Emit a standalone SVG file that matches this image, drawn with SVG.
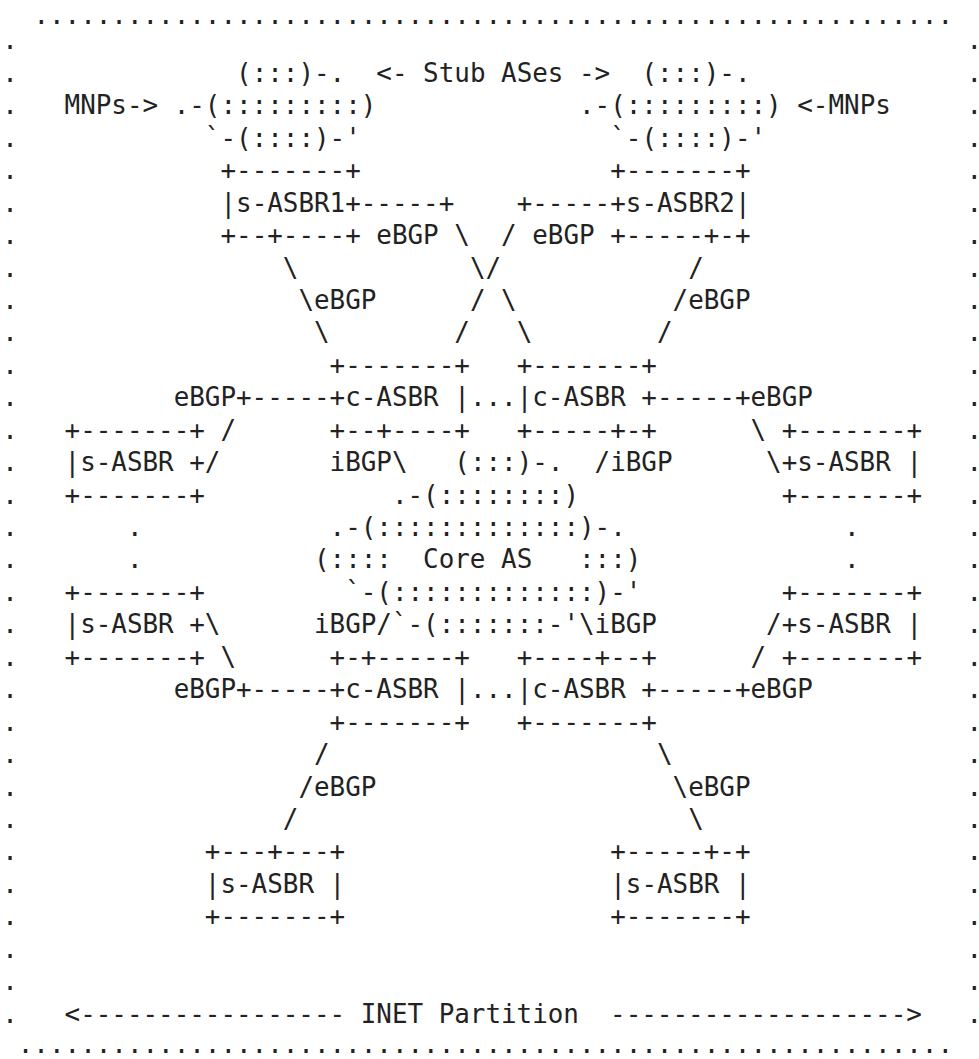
<svg xmlns="http://www.w3.org/2000/svg" width="979" height="1059" viewBox="0 0 979 1059" xml:space="preserve">
<style>
text { font-family: "DejaVu Sans Mono", "Liberation Mono", monospace; font-size: 25.9px; fill: #222; white-space: pre; }
.rd { letter-spacing: -9px; }
</style>
<rect x="0" y="0" width="979" height="1059" fill="#ffffff"/>
<g id="frame">
<text x="33.38" y="24.3">...........................................................</text>
<text x="17.79" y="1052.7">............................................................</text>
<text x="2.2" y="49.44">.</text><text class="rd" x="966.5" y="49.44">.</text>
<text x="2.2" y="81.88">.</text><text class="rd" x="966.5" y="81.88">.</text>
<text x="2.2" y="114.32">.</text><text class="rd" x="966.5" y="114.32">.</text>
<text x="2.2" y="146.76">.</text><text class="rd" x="966.5" y="146.76">.</text>
<text x="2.2" y="179.2">.</text><text class="rd" x="966.5" y="179.2">.</text>
<text x="2.2" y="211.64">.</text><text class="rd" x="966.5" y="211.64">.</text>
<text x="2.2" y="244.08">.</text><text class="rd" x="966.5" y="244.08">.</text>
<text x="2.2" y="276.52">.</text><text class="rd" x="966.5" y="276.52">.</text>
<text x="2.2" y="308.96">.</text><text class="rd" x="966.5" y="308.96">.</text>
<text x="2.2" y="341.4">.</text><text class="rd" x="966.5" y="341.4">.</text>
<text x="2.2" y="373.84">.</text><text class="rd" x="966.5" y="373.84">.</text>
<text x="2.2" y="406.28">.</text><text class="rd" x="966.5" y="406.28">.</text>
<text x="2.2" y="438.72">.</text><text class="rd" x="966.5" y="438.72">.</text>
<text x="2.2" y="471.16">.</text><text class="rd" x="966.5" y="471.16">.</text>
<text x="2.2" y="503.6">.</text><text class="rd" x="966.5" y="503.6">.</text>
<text x="2.2" y="536.04">.</text><text class="rd" x="966.5" y="536.04">.</text>
<text x="2.2" y="568.48">.</text><text class="rd" x="966.5" y="568.48">.</text>
<text x="2.2" y="600.92">.</text><text class="rd" x="966.5" y="600.92">.</text>
<text x="2.2" y="633.36">.</text><text class="rd" x="966.5" y="633.36">.</text>
<text x="2.2" y="665.8">.</text><text class="rd" x="966.5" y="665.8">.</text>
<text x="2.2" y="698.24">.</text><text class="rd" x="966.5" y="698.24">.</text>
<text x="2.2" y="730.68">.</text><text class="rd" x="966.5" y="730.68">.</text>
<text x="2.2" y="763.12">.</text><text class="rd" x="966.5" y="763.12">.</text>
<text x="2.2" y="795.56">.</text><text class="rd" x="966.5" y="795.56">.</text>
<text x="2.2" y="828">.</text><text class="rd" x="966.5" y="828">.</text>
<text x="2.2" y="860.44">.</text><text class="rd" x="966.5" y="860.44">.</text>
<text x="2.2" y="892.88">.</text><text class="rd" x="966.5" y="892.88">.</text>
<text x="2.2" y="925.32">.</text><text class="rd" x="966.5" y="925.32">.</text>
<text x="2.2" y="957.76">.</text><text class="rd" x="966.5" y="957.76">.</text>
<text x="2.2" y="990.2">.</text><text class="rd" x="966.5" y="990.2">.</text>
<text x="2.2" y="1022.64">.</text><text class="rd" x="966.5" y="1022.64">.</text>
</g>
<g id="labels">
<text x="376.36" y="81.88">&lt;- Stub ASes -&gt;</text>
<text x="64.56" y="114.32">MNPs-&gt;</text>
<text x="797.29" y="114.32">&lt;-MNPs</text>
</g>
<g id="stub-as-1">
<text x="236.05" y="81.88">(:::)-.</text>
<text x="173.69" y="114.32">.-(:::::::::)</text>
<text x="204.87" y="146.76">`-(::::)-'</text>
</g>
<g id="stub-as-2">
<text x="641.39" y="81.88">(:::)-.</text>
<text x="579.03" y="114.32">.-(:::::::::)</text>
<text x="610.21" y="146.76">`-(::::)-'</text>
</g>
<g id="s-asbr1">
<text x="220.46" y="179.2">+-------+</text>
<text x="220.46" y="211.64">|s-ASBR1+</text>
<text x="220.46" y="244.08">+--+----+</text>
</g>
<g id="s-asbr2">
<text x="610.21" y="179.2">+-------+</text>
<text x="610.21" y="211.64">+s-ASBR2|</text>
<text x="610.21" y="244.08">+-----+-+</text>
</g>
<g id="c-asbr-nw">
<text x="329.59" y="373.84">+-------+</text>
<text x="329.59" y="406.28">+c-ASBR |</text>
<text x="329.59" y="438.72">+--+----+</text>
</g>
<g id="c-asbr-ne">
<text x="516.67" y="373.84">+-------+</text>
<text x="516.67" y="406.28">|c-ASBR +</text>
<text x="516.67" y="438.72">+-----+-+</text>
</g>
<g id="s-asbr-w1">
<text x="64.56" y="438.72">+-------+</text>
<text x="64.56" y="471.16">|s-ASBR +</text>
<text x="64.56" y="503.6">+-------+</text>
</g>
<g id="s-asbr-e1">
<text x="781.7" y="438.72">+-------+</text>
<text x="781.7" y="471.16">+s-ASBR |</text>
<text x="781.7" y="503.6">+-------+</text>
</g>
<g id="core-as">
<text x="454.31" y="471.16">(:::)-.</text>
<text x="391.95" y="503.6">.-(::::::::)</text>
<text x="329.59" y="536.04">.-(:::::::::::::)-.</text>
<text x="314" y="568.48">(::::  Core AS   :::)</text>
<text x="345.18" y="600.92">`-(:::::::::::::)-'</text>
<text x="391.95" y="633.36">`-(:::::::-'</text>
</g>
<g id="s-asbr-w2">
<text x="64.56" y="600.92">+-------+</text>
<text x="64.56" y="633.36">|s-ASBR +</text>
<text x="64.56" y="665.8">+-------+</text>
</g>
<g id="s-asbr-e2">
<text x="781.7" y="600.92">+-------+</text>
<text x="781.7" y="633.36">+s-ASBR |</text>
<text x="781.7" y="665.8">+-------+</text>
</g>
<g id="c-asbr-sw">
<text x="329.59" y="665.8">+-+-----+</text>
<text x="329.59" y="698.24">+c-ASBR |</text>
<text x="329.59" y="730.68">+-------+</text>
</g>
<g id="c-asbr-se">
<text x="516.67" y="665.8">+----+--+</text>
<text x="516.67" y="698.24">|c-ASBR +</text>
<text x="516.67" y="730.68">+-------+</text>
</g>
<g id="s-asbr-s1">
<text x="204.87" y="860.44">+---+---+</text>
<text x="204.87" y="892.88">|s-ASBR |</text>
<text x="204.87" y="925.32">+-------+</text>
</g>
<g id="s-asbr-s2">
<text x="610.21" y="860.44">+-----+-+</text>
<text x="610.21" y="892.88">|s-ASBR |</text>
<text x="610.21" y="925.32">+-------+</text>
</g>
<g id="connectors">
<text x="360.77" y="211.64">-----+</text>
<text x="516.67" y="211.64">+-----</text>
<text x="376.36" y="244.08">eBGP \  / eBGP</text>
<text x="282.82" y="276.52">\</text>
<text x="469.9" y="276.52">\/</text>
<text x="688.16" y="276.52">/</text>
<text x="298.41" y="308.96">\eBGP</text>
<text x="469.9" y="308.96">/ \</text>
<text x="672.57" y="308.96">/eBGP</text>
<text x="314" y="341.4">\</text>
<text x="454.31" y="341.4">/</text>
<text x="516.67" y="341.4">\</text>
<text x="656.98" y="341.4">/</text>
<text x="173.69" y="406.28">eBGP+-----</text>
<text x="469.9" y="406.28">...</text>
<text x="656.98" y="406.28">-----+eBGP</text>
<text x="220.46" y="438.72">/</text>
<text x="750.52" y="438.72">\</text>
<text x="204.87" y="471.16">/</text>
<text x="329.59" y="471.16">iBGP\</text>
<text x="594.62" y="471.16">/iBGP</text>
<text x="766.11" y="471.16">\</text>
<text x="126.92" y="536.04">.</text>
<text x="844.06" y="536.04">.</text>
<text x="126.92" y="568.48">.</text>
<text x="844.06" y="568.48">.</text>
<text x="204.87" y="633.36">\</text>
<text x="314" y="633.36">iBGP/</text>
<text x="579.03" y="633.36">\iBGP</text>
<text x="766.11" y="633.36">/</text>
<text x="220.46" y="665.8">\</text>
<text x="750.52" y="665.8">/</text>
<text x="173.69" y="698.24">eBGP+-----</text>
<text x="469.9" y="698.24">...</text>
<text x="656.98" y="698.24">-----+eBGP</text>
<text x="314" y="763.12">/</text>
<text x="656.98" y="763.12">\</text>
<text x="298.41" y="795.56">/eBGP</text>
<text x="672.57" y="795.56">\eBGP</text>
<text x="282.82" y="828">/</text>
<text x="688.16" y="828">\</text>
<text x="64.56" y="1022.64">&lt;----------------- INET Partition  -------------------&gt;</text>
</g>
</svg>
